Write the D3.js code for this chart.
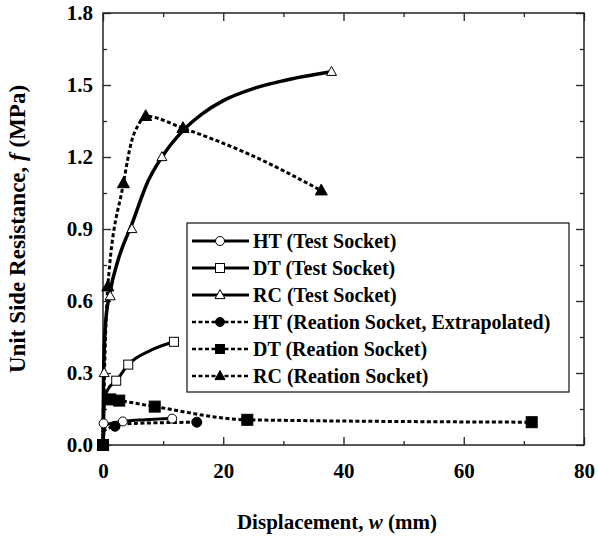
<!DOCTYPE html>
<html>
<head>
<meta charset="utf-8">
<script src="https://cdn.jsdelivr.net/npm/d3@7"></script>
<style>
  html, body { margin: 0; padding: 0; background: #fff; }
  svg { display: block; font-family: "Liberation Serif", "Times New Roman", serif; }
</style>
</head>
<body>
<svg id="chart" width="598" height="539"></svg>
<script>
// Axis ticks
const xMajorTicks = [0, 20, 40, 60, 80];
const xMinorTicks = [10, 30, 50, 70];
const yMajorTicks = [0, 0.3, 0.6, 0.9, 1.2, 1.5, 1.8];
const yMinorTicks = [0.15, 0.45, 0.75, 1.05, 1.35, 1.65];

// Series names (legend order)
const seriesNames = [
  "HT (Test Socket)",
  "DT (Test Socket)",
  "RC (Test Socket)",
  "HT (Reation Socket, Extrapolated)",
  "DT (Reation Socket)",
  "RC (Reation Socket)"
];

// Fitted curves: [displacement w (mm), unit side resistance f (MPa)]
const htTestCurve = [[0,0],[0.2,0.06],[0.6,0.085],[3.3,0.098],[7,0.105],[11.5,0.11]];
const dtTestCurve = [[0,0],[0.3,0.2],[0.9,0.235],[2.2,0.268],[4.2,0.335],[8,0.395],[11.8,0.43]];
const rcTestCurve = [[0,0],[0.1,0.3],[0.4,0.5],[1.2,0.64],[2.5,0.77],[4.8,0.92],[7.5,1.1],[9.8,1.2],[13.3,1.31],[16.5,1.38],[20,1.435],[25,1.485],[30,1.518],[38,1.555]];
const htReactCurve = [[0,0],[0.2,0.06],[2,0.078],[3.3,0.088],[15.6,0.095]];
const dtReactCurve = [[0,0],[0.1,0.19],[1.2,0.19],[2.7,0.185],[8.6,0.16],[24,0.105],[71.3,0.095]];
const rcReactCurve = [[0,0],[0.3,0.35],[0.8,0.66],[3.4,1.09],[4.8,1.27],[5.8,1.33],[7.1,1.37],[13.3,1.32],[24,1.215],[36.3,1.06]];

// Measured points (markers)
const htTestPts = [[0.1,0.09],[3.3,0.098],[11.5,0.11]];
const dtTestPts = [[2.2,0.268],[4.2,0.335],[11.8,0.43]];
const rcTestPts = [[0.2,0.3],[1.2,0.62],[4.8,0.9],[9.8,1.2],[38,1.555]];
const htReactPts = [[0,0],[2,0.078],[15.6,0.095]];
const dtReactPts = [[0,0],[1.2,0.19],[2.7,0.185],[8.6,0.16],[24,0.105],[71.3,0.095]];
const rcReactPts = [[0,0],[0.8,0.66],[3.4,1.09],[7.1,1.37],[13.3,1.32],[36.3,1.06]];

const series = [
  { name: seriesNames[0], curve: htTestCurve,  pts: htTestPts,  dashed: false, shape: "circle",   filled: false, width: 3 },
  { name: seriesNames[1], curve: dtTestCurve,  pts: dtTestPts,  dashed: false, shape: "square",   filled: false, width: 3 },
  { name: seriesNames[2], curve: rcTestCurve,  pts: rcTestPts,  dashed: false, shape: "triangle", filled: false, width: 3.5 },
  { name: seriesNames[3], curve: htReactCurve, pts: htReactPts, dashed: true,  shape: "circle",   filled: true,  width: 3 },
  { name: seriesNames[4], curve: dtReactCurve, pts: dtReactPts, dashed: true,  shape: "square",   filled: true,  width: 3 },
  { name: seriesNames[5], curve: rcReactCurve, pts: rcReactPts, dashed: true,  shape: "triangle", filled: true,  width: 3 }
];

const svg = d3.select("#chart");
const plot = { left: 103, right: 584, top: 13, bottom: 445 };

const x = d3.scaleLinear().domain([0, 80]).range([plot.left, plot.right]);
const y = d3.scaleLinear().domain([0, 1.8]).range([plot.bottom, plot.top]);

const fontSize = 21;
const frameColor = "#222";

// Frame
svg.append("rect")
  .attr("x", plot.left).attr("y", plot.top)
  .attr("width", plot.right - plot.left).attr("height", plot.bottom - plot.top)
  .attr("fill", "none").attr("stroke", frameColor).attr("stroke-width", 1.5);

function styleAxis(g) {
  g.select(".domain").remove();
  g.selectAll(".tick line").attr("stroke", frameColor).attr("stroke-width", 1.3);
  g.selectAll("text")
    .attr("fill", "#000")
    .style("font-family", "'Liberation Serif', 'Times New Roman', serif")
    .style("font-weight", "bold")
    .style("font-size", fontSize + "px");
}

// Bottom axis
svg.append("g").attr("transform", `translate(0,${plot.bottom})`)
  .call(d3.axisBottom(x).tickValues(xMajorTicks).tickFormat(d3.format("d")).tickSizeInner(-8).tickSizeOuter(0).tickPadding(18))
  .call(styleAxis);
svg.append("g").attr("transform", `translate(0,${plot.bottom})`)
  .call(d3.axisBottom(x).tickValues(xMinorTicks).tickFormat("").tickSizeInner(-4).tickSizeOuter(0))
  .call(styleAxis);
// Top axis (ticks only)
svg.append("g").attr("transform", `translate(0,${plot.top})`)
  .call(d3.axisTop(x).tickValues(xMajorTicks).tickFormat("").tickSizeInner(-8).tickSizeOuter(0))
  .call(styleAxis);
svg.append("g").attr("transform", `translate(0,${plot.top})`)
  .call(d3.axisTop(x).tickValues(xMinorTicks).tickFormat("").tickSizeInner(-4).tickSizeOuter(0))
  .call(styleAxis);

// Left axis
svg.append("g").attr("transform", `translate(${plot.left},0)`)
  .call(d3.axisLeft(y).tickValues(yMajorTicks).tickFormat(d3.format(".1f")).tickSizeInner(-8).tickSizeOuter(0).tickPadding(10))
  .call(styleAxis);
svg.append("g").attr("transform", `translate(${plot.left},0)`)
  .call(d3.axisLeft(y).tickValues(yMinorTicks).tickFormat("").tickSizeInner(-4).tickSizeOuter(0))
  .call(styleAxis);
// Right axis (ticks only)
svg.append("g").attr("transform", `translate(${plot.right},0)`)
  .call(d3.axisRight(y).tickValues(yMajorTicks).tickFormat("").tickSizeInner(-8).tickSizeOuter(0))
  .call(styleAxis);
svg.append("g").attr("transform", `translate(${plot.right},0)`)
  .call(d3.axisRight(y).tickValues(yMinorTicks).tickFormat("").tickSizeInner(-4).tickSizeOuter(0))
  .call(styleAxis);

// Axis titles
const yTitle = svg.append("text")
  .attr("transform", `translate(25,${(plot.top + plot.bottom) / 2}) rotate(-90)`)
  .attr("text-anchor", "middle")
  .style("font-weight", "bold").style("font-size", "23px");
yTitle.append("tspan").text("Unit Side Resistance, ");
yTitle.append("tspan").style("font-style", "italic").text("f");
yTitle.append("tspan").text(" (MPa)");

const xTitle = svg.append("text")
  .attr("x", 337).attr("y", 529)
  .attr("text-anchor", "middle")
  .style("font-weight", "bold").style("font-size", "21px");
xTitle.append("tspan").text("Displacement, ");
xTitle.append("tspan").style("font-style", "italic").text("w");
xTitle.append("tspan").text(" (mm)");

// Marker drawing
function drawMarker(g, shape, filled, cx, cy, big) {
  const fill = filled ? "#000" : "#fff";
  const sw = 1;
  if (shape === "circle") {
    g.append("circle").attr("cx", cx).attr("cy", cy).attr("r", big ? 5 : 4.5)
      .attr("fill", fill).attr("stroke", "#000").attr("stroke-width", sw);
  } else if (shape === "square") {
    const s = big ? 11 : 9;
    g.append("rect").attr("x", cx - s / 2).attr("y", cy - s / 2).attr("width", s).attr("height", s)
      .attr("fill", fill).attr("stroke", "#000").attr("stroke-width", sw);
  } else {
    const s = big ? 12 : 10;
    const h = s * 0.9;
    g.append("path")
      .attr("d", `M${cx},${cy - h * 0.6}L${cx + s / 2},${cy + h * 0.4}L${cx - s / 2},${cy + h * 0.4}Z`)
      .attr("fill", fill).attr("stroke", "#000").attr("stroke-width", sw);
  }
}

const line = d3.line().x(d => x(d[0])).y(d => y(d[1])).curve(d3.curveMonotoneX);

const plotG = svg.append("g");
series.forEach(s => {
  plotG.append("path")
    .attr("d", line(s.curve))
    .attr("fill", "none").attr("stroke", "#000")
    .attr("stroke-width", s.width)
    .attr("stroke-dasharray", s.dashed ? "4,2.5" : null)
    .attr("stroke-linejoin", "round");
});
series.forEach(s => {
  s.pts.forEach(p => drawMarker(plotG, s.shape, s.filled, x(p[0]), y(p[1]), s.filled));
});

// Legend
const legend = { x: 187, y: 223, w: 382, h: 169, rowH: 27, first: 18 };
const lg = svg.append("g");
lg.append("rect")
  .attr("x", legend.x).attr("y", legend.y).attr("width", legend.w).attr("height", legend.h)
  .attr("fill", "#fff").attr("stroke", frameColor).attr("stroke-width", 1.3);

series.forEach((s, i) => {
  const cy = legend.y + legend.first + i * legend.rowH;
  lg.append("line")
    .attr("x1", legend.x + 5).attr("x2", legend.x + 62)
    .attr("y1", cy).attr("y2", cy)
    .attr("stroke", "#000").attr("stroke-width", s.dashed ? 2.5 : 3)
    .attr("stroke-dasharray", s.dashed ? "4,2.5" : null);
  drawMarker(lg, s.shape, s.filled, legend.x + 33, cy, false);
  lg.append("text")
    .attr("x", legend.x + 66).attr("y", cy).attr("dy", "0.35em")
    .style("font-weight", "bold").style("font-size", "20px")
    .text(s.name);
});
</script>
</body>
</html>
